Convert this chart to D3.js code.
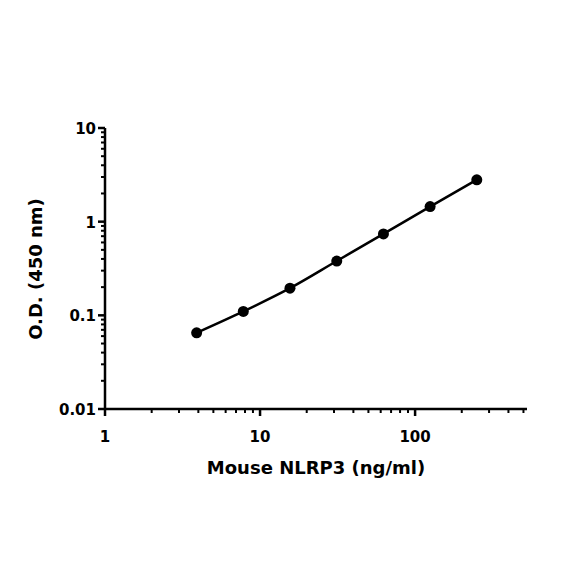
<!DOCTYPE html>
<html><head><meta charset="utf-8">
<script src="https://cdn.jsdelivr.net/npm/d3@7"></script>
<style>body{margin:0;background:#fff}</style>
</head><body>
<svg id="chart" width="584" height="584"></svg>
<script>
var conc = [3.9, 7.8, 15.6, 31.25, 62.5, 125, 250];
var od = [0.065, 0.11, 0.195, 0.38, 0.74, 1.45, 2.8];
var xMajor = [1, 10, 100];
var yMajor = [0.01, 0.1, 1, 10];

var svg = d3.select("#chart");
var x = d3.scaleLog().domain([1, 527]).range([105, 527]);
var y = d3.scaleLog().domain([0.01, 10]).range([409, 128]);

function minors(lo, hi) {
  var out = [];
  for (var d = lo; d < hi; d *= 10)
    for (var k = 2; k <= 9; k++) if (d * k <= hi) out.push(d * k);
  return out;
}

var g = svg.append("g").attr("stroke", "#000").attr("stroke-width", 2.5);
g.append("line").attr("x1", x(1)).attr("x2", 527).attr("y1", y(0.01)).attr("y2", y(0.01));
g.append("line").attr("x1", x(1)).attr("x2", x(1)).attr("y1", y(0.01)).attr("y2", y(10));

// x ticks
g.selectAll(".xm").data(xMajor).enter().append("line")
  .attr("x1", d => x(d)).attr("x2", d => x(d)).attr("y1", y(0.01)).attr("y2", y(0.01) + 7);
g.selectAll(".xn").data(minors(1, 500)).enter().append("line").attr("stroke-width", 2)
  .attr("x1", d => x(d)).attr("x2", d => x(d)).attr("y1", y(0.01)).attr("y2", y(0.01) + 4);
// y ticks
g.selectAll(".ym").data(yMajor).enter().append("line")
  .attr("y1", d => y(d)).attr("y2", d => y(d)).attr("x1", x(1)).attr("x2", x(1) - 7);
g.selectAll(".yn").data(minors(0.01, 10)).enter().append("line").attr("stroke-width", 2)
  .attr("y1", d => y(d)).attr("y2", d => y(d)).attr("x1", x(1)).attr("x2", x(1) - 4);

var font = "'DejaVu Sans', sans-serif";
svg.selectAll(".xl").data(xMajor).enter().append("text")
  .attr("x", d => x(d)).attr("y", y(0.01) + 33).attr("text-anchor", "middle")
  .style("font-family", font).style("font-size", "15px").style("font-weight", "bold")
  .text(d => d);
svg.selectAll(".yl").data(yMajor).enter().append("text")
  .attr("x", x(1) - 9).attr("y", d => y(d) + 6).attr("text-anchor", "end")
  .style("font-family", font).style("font-size", "15px").style("font-weight", "bold")
  .text(d => d);

svg.append("text").attr("x", 316).attr("y", 474).attr("text-anchor", "middle")
  .style("font-family", font).style("font-size", "18px").style("font-weight", "bold")
  .text("Mouse NLRP3 (ng/ml)");
svg.append("text").attr("transform", "translate(42,269) rotate(-90)").attr("text-anchor", "middle")
  .style("font-family", font).style("font-size", "18px").style("font-weight", "bold")
  .text("O.D. (450 nm)");

var pts = conc.map((c, i) => [c, od[i]]);
svg.append("path").datum(pts)
  .attr("d", d3.line().x(d => x(d[0])).y(d => y(d[1])).curve(d3.curveMonotoneX))
  .attr("fill", "none").attr("stroke", "#000").attr("stroke-width", 2.5);
svg.selectAll("circle").data(pts).enter().append("circle")
  .attr("cx", d => x(d[0])).attr("cy", d => y(d[1])).attr("r", 5.5).attr("fill", "#000");
</script>
</body></html>
